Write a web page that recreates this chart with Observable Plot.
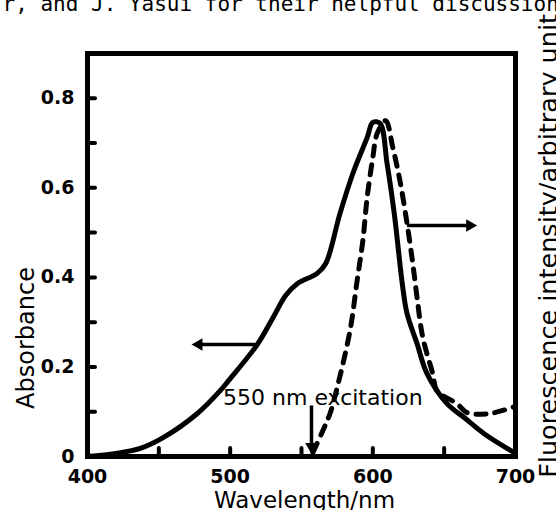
<!DOCTYPE html>
<html>
<head>
<meta charset="utf-8">
<script src="https://cdn.jsdelivr.net/npm/d3@7"></script>
<script src="https://cdn.jsdelivr.net/npm/@observablehq/plot@0.6"></script>
<style>
  html, body { margin: 0; padding: 0; background: #fff; }
  #chart svg { display: block; }
</style>
</head>
<body>
<div id="chart"></div>
<script>
// Absorption spectrum (solid line), wavelength in nm and absorbance
const absWl  = [400, 420, 437, 453, 477, 493, 499, 519, 530, 539, 547, 561, 567, 577, 586, 596, 600, 605, 610, 615, 621, 624, 631, 638, 652, 664, 678, 699];
const absVal = [0.000, 0.007, 0.018, 0.042, 0.096, 0.147, 0.170, 0.250, 0.310, 0.360, 0.386, 0.409, 0.431, 0.543, 0.632, 0.712, 0.746, 0.744, 0.654, 0.543, 0.377, 0.319, 0.252, 0.185, 0.118, 0.087, 0.051, 0.009];

// Fluorescence spectrum (dashed line), arbitrary units drawn on the same vertical scale
const flWl  = [558, 565, 570, 575, 584, 589, 593, 596, 600, 603, 609, 614, 619, 624, 628, 631, 635, 642, 645, 659, 666, 682, 700];
const flVal = [0.009, 0.058, 0.096, 0.154, 0.281, 0.393, 0.482, 0.578, 0.668, 0.721, 0.750, 0.690, 0.616, 0.520, 0.431, 0.355, 0.266, 0.185, 0.147, 0.118, 0.098, 0.096, 0.112];

// Axis ticks
const xTickLabels = [400, 500, 600, 700];
const xTickMarks  = [450, 500, 550, 600, 650];
const yTickLabels = [0, 0.2, 0.4, 0.6, 0.8];
const yTickMarks  = [0.1, 0.2, 0.3, 0.4, 0.5, 0.6, 0.7, 0.8];

// Annotations: arrows (from x1,y1 to tip x2,y2) and the excitation label
const arrowX1 = [519, 624, 557];
const arrowY1 = [0.250, 0.516, 0.114];
const arrowX2 = [478, 668, 557];
const arrowY2 = [0.250, 0.516, 0.022];
const arrowDir = [-90, 90, 180];
const exciteText = ["550 nm excitation"];
const exciteX = [495];
const exciteY = [0.114];

const topText = "r, and J. Yasui for their helpful discussion";
const xLabel = "Wavelength/nm";
const yLabel = "Absorbance";
const y2Label = "Fluorescence intensity/arbitrary unit";

const absData = absWl.map((w, i) => ({w, v: absVal[i]}));
const flData = flWl.map((w, i) => ({w, v: flVal[i]}));
const arrows = arrowX1.map((x1, i) => ({x1, y1: arrowY1[i], x2: arrowX2[i], y2: arrowY2[i], dir: arrowDir[i]}));
const excite = exciteText.map((t, i) => ({t, x: exciteX[i], y: exciteY[i]}));

const sans = "DejaVu Sans";
const chart = Plot.plot({
  width: 556,
  height: 510,
  marginLeft: 87,
  marginRight: 41,
  marginTop: 53,
  marginBottom: 54,
  style: {fontFamily: sans, background: "#fff", color: "#000"},
  x: {domain: [400, 700]},
  y: {domain: [0, 0.9]},
  marks: [
    // inward tick marks
    Plot.axisX(xTickMarks, {tickSize: -8, strokeWidth: 4, strokeLinecap: "round", tickFormat: () => "", label: null}),
    Plot.axisY(yTickMarks, {tickSize: -8, strokeWidth: 4, strokeLinecap: "round", tickFormat: () => "", label: null}),
    // tick labels
    Plot.axisX(xTickLabels, {tickSize: 0, tickPadding: 13, fontSize: 19, fontWeight: "bold", label: null, tickFormat: d => String(d)}),
    Plot.axisY(yTickLabels, {tickSize: 0, tickPadding: 13, fontSize: 19, fontWeight: "bold", label: null,
      tickFormat: d => d === 0 ? "0" : d.toFixed(1)}),
    Plot.frame({stroke: "#000", strokeWidth: 5}),
    // spectra
    Plot.line(absData, {x: "w", y: "v", stroke: "#000", strokeWidth: 5, curve: "catmull-rom", strokeLinejoin: "round", strokeLinecap: "round"}),
    Plot.line(flData, {x: "w", y: "v", stroke: "#000", strokeWidth: 5, curve: "catmull-rom", strokeDasharray: "10,9", strokeLinecap: "round"}),
    // annotation arrows
    Plot.link(arrows, {x1: "x1", y1: "y1", x2: "x2", y2: "y2", stroke: "#000", strokeWidth: 3.5}),
    Plot.dot(arrows, {x: "x2", y: "y2", symbol: "triangle2", r: 6, fill: "#000", stroke: "none", rotate: "dir"}),
    Plot.text(excite, {x: "x", y: "y", text: "t", textAnchor: "start", lineAnchor: "bottom", fontSize: 22}),
    // titles and labels
    Plot.text([xLabel], {frameAnchor: "bottom", dx: 3, dy: 51, lineAnchor: "bottom", fontSize: 23}),
    Plot.text([yLabel], {frameAnchor: "left", dx: -54, dy: 83, rotate: -90, lineAnchor: "bottom", textAnchor: "middle", fontSize: 24}),
    Plot.text([y2Label], {frameAnchor: "right", dx: 41, dy: -241, rotate: -90, lineAnchor: "bottom", textAnchor: "end", fontSize: 25.5}),
    Plot.text([topText], {frameAnchor: "top-left", dx: -85, dy: -43, lineAnchor: "bottom", textAnchor: "start", fontSize: 21, fontFamily: "DejaVu Sans Mono"})
  ]
});
document.getElementById("chart").appendChild(chart);
</script>
</body>
</html>
